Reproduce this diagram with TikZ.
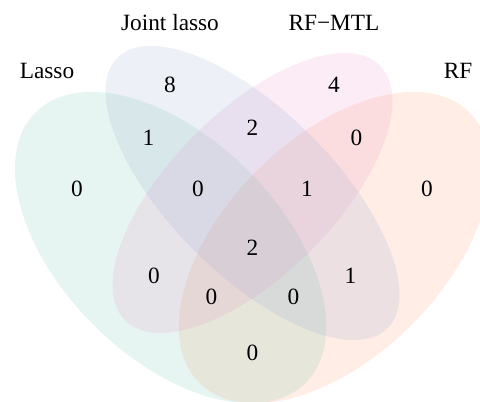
\documentclass[tikz,border=0pt]{standalone}
\usepackage{fontspec}
\setmainfont{Liberation Serif}
\definecolor{lassocol}{HTML}{66C2A5}
\definecolor{rfcol}{HTML}{FC8D62}
\definecolor{jointcol}{HTML}{8DA0CB}
\definecolor{mtlcol}{HTML}{E78AC3}
\begin{document}
\begin{tikzpicture}[x=1pt,y=1pt,
  setfill/.style={fill=#1, fill opacity=0.16, draw=none},
  count/.style={font=\fontsize{23.3}{28}\selectfont, inner sep=0pt, anchor=center},
  setname/.style={font=\fontsize{23.3}{28}\selectfont, inner sep=0pt, anchor=base}]
\useasboundingbox (0,0) rectangle (480,402);
\begin{scope}
  \clip (0,0) rectangle (480,402);
  % RF (right outer ellipse)
  \fill[setfill=rfcol, rotate around={45:(334.4,154.4)}]
    (334.4,154.4) ellipse [x radius=191.1, y radius=109.2];
  % Lasso (left outer ellipse)
  \fill[setfill=lassocol, rotate around={135:(170.6,154.4)}]
    (170.6,154.4) ellipse [x radius=191.1, y radius=109.2];
  % RF-MTL (inner ellipse, leaning right)
  \fill[setfill=mtlcol, rotate around={45:(252.5,209)}]
    (252.5,209) ellipse [x radius=180.2, y radius=81.9];
  % Joint lasso (inner ellipse, leaning left)
  \fill[setfill=jointcol, rotate around={135:(252.5,209)}]
    (252.5,209) ellipse [x radius=191.1, y radius=81.9];
\end{scope}

% set names
\node[setname] (nLasso) at (47,323) {Lasso};
\node[setname] (nJoint) at (170,371) {Joint lasso};
\node[setname] (nMTL)   at (334,371) {RF−MTL};
\node[setname] (nRF)    at (458,323) {RF};

% region counts
\node[count] (cJ)     at (170,317) {8};
\node[count] (cM)     at (334,317) {4};
\node[count] (cLJ)    at (148.5,264) {1};
\node[count] (cJM)    at (252.5,274) {2};
\node[count] (cMR)    at (356.5,264) {0};
\node[count] (cL)     at (77,213) {0};
\node[count] (cLJM)   at (198,213) {0};
\node[count] (cJMR)   at (307,213) {1};
\node[count] (cR)     at (427,213) {0};
\node[count] (cAll)   at (252.5,154) {2};
\node[count] (cLM)    at (154,126) {0};
\node[count] (cJR)    at (350.5,126) {1};
\node[count] (cLMR)   at (211.5,105) {0};
\node[count] (cLJR)   at (293.5,105) {0};
\node[count] (cLR)    at (252.5,49.5) {0};
\end{tikzpicture}
\end{document}
